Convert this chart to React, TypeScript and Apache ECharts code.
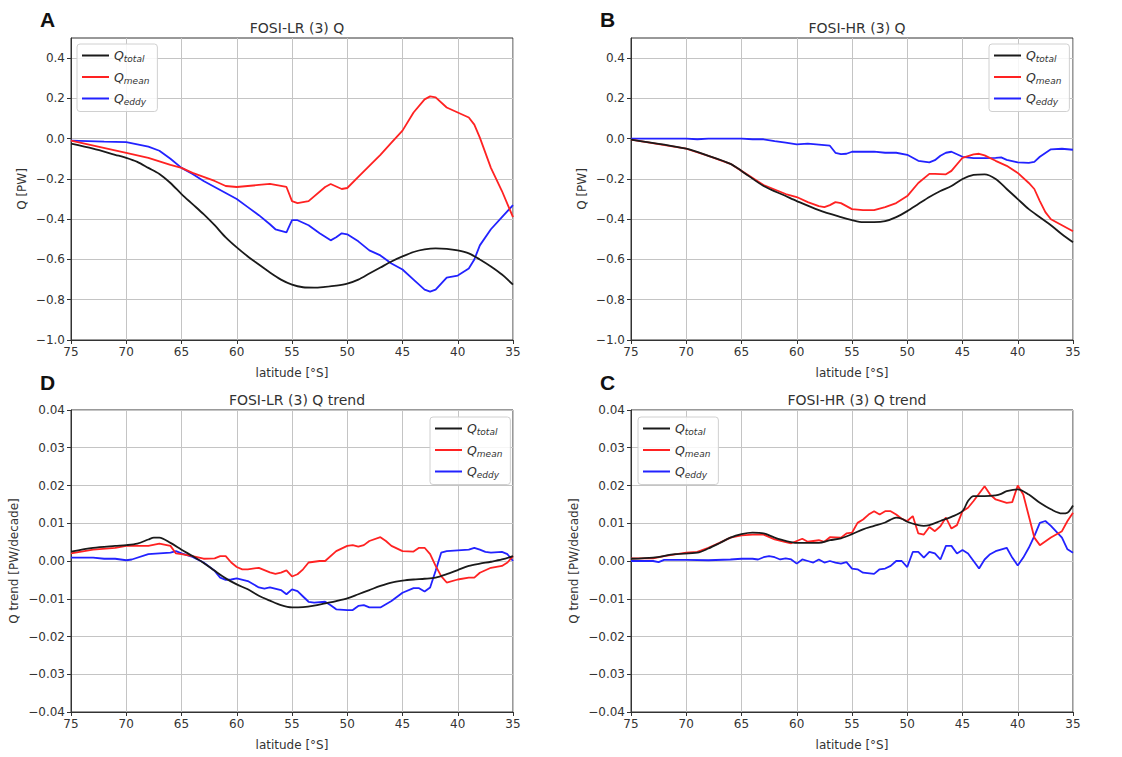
import React, { useEffect, useRef } from 'react';
import * as echarts from 'echarts';

// ---------- tick values ----------
const yTicksQ = [-1.0, -0.8, -0.6, -0.4, -0.2, 0.0, 0.2, 0.4];
const yTicksT = [-0.04, -0.03, -0.02, -0.01, 0.0, 0.01, 0.02, 0.03, 0.04];
const xTicks = [75, 70, 65, 60, 55, 50, 45, 40, 35];
const seriesNames = ['Qtotal', 'Qmean', 'Qeddy'];
const subscripts = ['total', 'mean', 'eddy'];

// ---------- Panel A: FOSI-LR (3) Q ----------
const A_total_lat = [75, 73, 71, 70, 69, 68, 67, 66, 65, 64, 63, 62, 61, 60, 59, 58, 57, 56, 55, 54, 53, 52, 51, 50, 49, 48, 47, 46, 45, 44, 43, 42, 41, 40, 39, 38, 37, 36, 35];
const A_total = [-0.025, -0.05, -0.08, -0.095, -0.115, -0.145, -0.175, -0.22, -0.275, -0.325, -0.375, -0.43, -0.49, -0.54, -0.585, -0.625, -0.665, -0.7, -0.725, -0.738, -0.74, -0.736, -0.73, -0.72, -0.7, -0.67, -0.64, -0.61, -0.585, -0.563, -0.55, -0.545, -0.547, -0.555, -0.57, -0.6, -0.635, -0.675, -0.725];
const A_mean_lat = [75, 70, 68, 66, 65, 64, 62, 61, 60, 58, 57, 56, 55.5, 55, 54.5, 53.5, 52, 51.5, 50.5, 50, 49, 48, 47, 46, 45, 44, 43, 42.5, 42, 41, 40, 39, 38.5, 38, 37, 36, 35];
const A_mean = [-0.01, -0.07, -0.095, -0.13, -0.145, -0.17, -0.21, -0.235, -0.24, -0.23, -0.225, -0.235, -0.24, -0.31, -0.32, -0.31, -0.24, -0.225, -0.25, -0.245, -0.19, -0.135, -0.08, -0.02, 0.04, 0.13, 0.195, 0.21, 0.205, 0.155, 0.13, 0.105, 0.07, 0.005, -0.145, -0.26, -0.39];
const A_eddy_lat = [75, 72, 70, 68, 67, 66, 65, 64, 63, 61, 60, 59, 58, 57, 56.5, 55.5, 55, 54.5, 53.5, 52.5, 51.5, 51, 50.5, 50, 49, 48, 47, 46, 45, 44, 43, 42.5, 42, 41, 40, 39, 38.5, 38, 37, 36, 35];
const A_eddy = [-0.01, -0.015, -0.017, -0.04, -0.06, -0.1, -0.145, -0.175, -0.21, -0.27, -0.3, -0.34, -0.38, -0.425, -0.45, -0.465, -0.405, -0.405, -0.43, -0.47, -0.505, -0.49, -0.47, -0.475, -0.51, -0.555, -0.58, -0.62, -0.65, -0.7, -0.75, -0.76, -0.75, -0.69, -0.68, -0.645, -0.6, -0.53, -0.45, -0.39, -0.33];

// ---------- Panel B: FOSI-HR (3) Q ----------
const B_total_lat = [75, 70, 68, 66, 65, 63, 61, 60, 58, 56, 55, 54, 53, 52, 51, 50, 49, 48, 47, 46, 45, 44, 43, 42, 41, 40, 39, 38, 37, 36, 35];
const B_total = [-0.005, -0.05, -0.085, -0.125, -0.16, -0.235, -0.285, -0.31, -0.355, -0.39, -0.405, -0.415, -0.415, -0.41, -0.39, -0.36, -0.325, -0.29, -0.26, -0.235, -0.2, -0.18, -0.177, -0.2, -0.25, -0.3, -0.35, -0.39, -0.43, -0.475, -0.515];
const B_mean_lat = [75, 70, 68, 66, 65, 63, 61, 60, 59, 58, 57.5, 57, 56.5, 56, 55, 54, 53, 52, 51, 50, 49, 48, 47.5, 46.5, 46, 45, 44, 43.5, 43, 42, 41, 40, 39, 38.5, 38, 37.5, 37, 36, 35];
const B_mean = [-0.005, -0.05, -0.085, -0.125, -0.16, -0.23, -0.275, -0.29, -0.315, -0.335, -0.34, -0.33, -0.315, -0.32, -0.35, -0.355, -0.355, -0.34, -0.32, -0.285, -0.22, -0.175, -0.175, -0.177, -0.16, -0.095, -0.078, -0.075, -0.083, -0.11, -0.135, -0.17, -0.22, -0.25, -0.31, -0.365, -0.4, -0.43, -0.46];
const B_eddy_lat = [75, 70, 69, 68, 65, 64, 63, 62, 61, 60, 59, 58, 57, 56.5, 56, 55.5, 55, 54, 53, 52, 51, 50, 49, 48, 47.5, 47, 46.5, 46, 45, 44, 43, 42, 41.5, 41, 40, 39, 38.5, 38, 37, 36, 35];
const B_eddy = [0.0, 0.0, -0.003, 0.0, 0.0, -0.003, -0.003, -0.012, -0.02, -0.028, -0.025, -0.03, -0.035, -0.07, -0.077, -0.075, -0.065, -0.065, -0.064, -0.07, -0.07, -0.08, -0.11, -0.118, -0.107, -0.085, -0.07, -0.065, -0.09, -0.097, -0.097, -0.095, -0.093, -0.105, -0.118, -0.12, -0.115, -0.09, -0.053, -0.05, -0.055];

// ---------- Panel D: FOSI-LR (3) Q trend ----------
const D_total_lat = [75, 73, 71, 70, 69, 68, 67.5, 67, 66, 65, 64, 63, 62, 61, 60, 59, 58, 57, 56, 55, 54, 53, 52, 51, 50, 49, 48, 47, 46, 45, 44, 43, 42, 41, 40, 39, 38, 37, 36, 35];
const D_total = [0.0025, 0.0035, 0.004, 0.0042, 0.0046, 0.0057, 0.0062, 0.0062, 0.0048, 0.003, 0.0013, -0.0005, -0.0026, -0.0046, -0.0062, -0.0075, -0.0092, -0.0105, -0.0117, -0.0123, -0.0122, -0.0118, -0.0112, -0.0106, -0.0099, -0.0088, -0.0077, -0.0066, -0.0057, -0.0052, -0.0049, -0.0047, -0.0044, -0.0035, -0.0024, -0.0013, -0.0007, -0.0002, 0.0004, 0.0013];
const D_mean_lat = [75, 73, 71, 70, 69, 68, 67, 66, 65.5, 65, 64, 63, 62, 61.5, 61, 60.5, 60, 59.5, 59, 58, 57, 56.5, 56, 55.5, 55, 54.5, 54, 53.5, 52.5, 52, 51, 50, 49.5, 49, 48.5, 48, 47, 46.5, 46, 45, 44, 43.5, 43, 42.5, 42, 41.5, 41, 40, 39, 38.5, 38, 37, 36, 35.5, 35];
const D_mean = [0.002, 0.003, 0.0035, 0.004, 0.004, 0.004, 0.0046, 0.004, 0.002, 0.0018, 0.0013, 0.0006, 0.0007, 0.0013, 0.0013, -0.0004, -0.0016, -0.0022, -0.0022, -0.0018, -0.003, -0.0034, -0.0031, -0.0025, -0.0041, -0.0035, -0.0022, -0.0004, 0.0, 0.0, 0.0026, 0.004, 0.0042, 0.0038, 0.0042, 0.0053, 0.0063, 0.0053, 0.004, 0.0026, 0.0025, 0.0035, 0.0035, 0.0018, -0.0013, -0.004, -0.0057, -0.0049, -0.0044, -0.0044, -0.0031, -0.0018, -0.0013, -0.0004, 0.0013];
const D_eddy_lat = [75, 73, 72, 71, 70, 69.5, 68, 67, 66, 65.5, 65, 64, 63, 62, 61.5, 61, 60.5, 60, 59, 58, 57.5, 57, 56, 55.5, 55, 54.5, 54, 53.5, 53, 52, 51.5, 51, 50, 49.5, 49, 48.5, 48, 47, 46, 45, 44, 43.5, 43, 42.5, 42, 41.5, 41, 40, 39, 38.5, 38, 37.5, 37, 36, 35.5, 35];
const D_eddy = [0.0009, 0.0009, 0.0006, 0.0006, 0.0002, 0.0004, 0.0018, 0.002, 0.0022, 0.0026, 0.002, 0.0011, -0.0004, -0.0026, -0.0044, -0.005, -0.0049, -0.0046, -0.0053, -0.007, -0.0073, -0.007, -0.0077, -0.0088, -0.0075, -0.008, -0.0094, -0.0108, -0.011, -0.0108, -0.0117, -0.0128, -0.013, -0.013, -0.0119, -0.0117, -0.0123, -0.0123, -0.0106, -0.0084, -0.0072, -0.0072, -0.0081, -0.007, -0.0026, 0.0022, 0.0026, 0.0028, 0.003, 0.0035, 0.003, 0.0024, 0.0022, 0.0024, 0.0018, 0.0];

// ---------- Panel C: FOSI-HR (3) Q trend ----------
const C_total_lat = [75, 73, 71, 69, 68, 67, 66, 65, 64, 63, 62, 61, 60, 58, 57, 56, 55, 54, 53, 52, 51, 50.5, 50, 49, 48.5, 48, 47, 46, 45, 44.5, 44, 43, 42, 41.5, 41, 40, 39, 38, 37, 36, 35.5, 35];
const C_total = [0.0006, 0.0009, 0.0018, 0.0022, 0.0033, 0.0047, 0.0062, 0.0071, 0.0075, 0.0073, 0.0062, 0.0053, 0.0048, 0.0048, 0.0055, 0.006, 0.0071, 0.0084, 0.0093, 0.0102, 0.0115, 0.0112, 0.0104, 0.0095, 0.0093, 0.0095, 0.0106, 0.0117, 0.0132, 0.0159, 0.0172, 0.0172, 0.0174, 0.0178, 0.0185, 0.019, 0.0176, 0.0154, 0.0137, 0.0126, 0.0128, 0.0147];
const C_mean_lat = [75, 73, 72, 70, 69, 68, 67, 66, 65, 64, 63, 62, 61, 60.5, 60, 59.5, 59, 58, 57.5, 57, 56, 55.5, 55, 54.5, 54, 53.5, 53, 52.5, 52, 51.5, 51, 50.5, 50, 49.5, 49, 48.5, 48, 47.5, 47, 46.5, 46, 45.5, 45, 44.5, 44, 43, 42.5, 42, 41, 40.5, 40, 39.5, 39, 38.5, 38, 37, 36, 35.5, 35];
const C_mean = [0.0007, 0.0007, 0.0013, 0.0022, 0.0024, 0.0035, 0.0048, 0.0062, 0.0068, 0.007, 0.007, 0.0057, 0.005, 0.0047, 0.0053, 0.0059, 0.0051, 0.0055, 0.0051, 0.0063, 0.0062, 0.0073, 0.0075, 0.0101, 0.011, 0.0123, 0.0132, 0.0123, 0.0132, 0.0132, 0.0123, 0.0112, 0.0106, 0.0119, 0.0073, 0.007, 0.009, 0.0079, 0.0092, 0.0115, 0.0086, 0.0095, 0.0132, 0.0141, 0.0159, 0.0198, 0.0176, 0.0163, 0.0154, 0.0156, 0.02, 0.0176, 0.0119, 0.0062, 0.0042, 0.0062, 0.0079, 0.0106, 0.0128];
const C_eddy_lat = [75, 73, 72.5, 72, 70, 68, 66, 65, 64, 63.5, 63, 62.5, 62, 61.5, 61, 60.5, 60, 59.5, 59, 58.5, 58, 57.5, 57, 56.5, 56, 55.5, 55, 54.5, 54, 53, 52.5, 52, 51.5, 51, 50.5, 50, 49.5, 49, 48.5, 48, 47.5, 47, 46.5, 46, 45.5, 45, 44.5, 44, 43.5, 43, 42.5, 42, 41, 40.5, 40, 39.5, 39, 38.5, 38, 37.5, 37, 36, 35.5, 35];
const C_eddy = [0.0, 0.0, -0.0003, 0.0003, 0.0003, 0.0002, 0.0004, 0.0006, 0.0006, 0.0004, 0.001, 0.0013, 0.001, 0.0004, 0.0007, 0.0004, -0.0007, 0.0004, 0.0, -0.0004, 0.0004, -0.0004, 0.0, -0.0004, -0.0007, -0.0003, -0.002, -0.0022, -0.0031, -0.0034, -0.0022, -0.002, -0.0013, 0.0, 0.0, -0.0016, 0.0024, 0.0024, 0.0009, 0.0024, 0.002, 0.0004, 0.004, 0.004, 0.002, 0.0029, 0.002, 0.0, -0.002, 0.0004, 0.0018, 0.0026, 0.0035, 0.0009, -0.0012, 0.0009, 0.0035, 0.0066, 0.0101, 0.0106, 0.0093, 0.0062, 0.0031, 0.0022];

const COLORS = ['#1a1a1a', '#ff2222', '#2222ff'];
const FONT = 'DejaVu Sans';

const zip = (xs: number[], ys: number[]) => xs.map((x, i) => [x, ys[i]]);
const fmt = (d: number) => (v: number) => (v < -1e-9 ? '\u2212' : '') + Math.abs(v).toFixed(d);

export default function App() {
  const ref = useRef<HTMLDivElement>(null);
  useEffect(() => {
    if (!ref.current) return;
    const chart = echarts.init(ref.current, null, { renderer: 'svg' });

    const panels = [
      { left: 71, top: 38, title: 'FOSI-LR (3) Q', letter: 'A', trend: false, legend: { left: 77, top: 44 },
        data: [zip(A_total_lat, A_total), zip(A_mean_lat, A_mean), zip(A_eddy_lat, A_eddy)] },
      { left: 631, top: 38, title: 'FOSI-HR (3) Q', letter: 'B', trend: false, legend: { left: 989, top: 44 },
        data: [zip(B_total_lat, B_total), zip(B_mean_lat, B_mean), zip(B_eddy_lat, B_eddy)] },
      { left: 71, top: 410, title: 'FOSI-LR (3) Q trend', letter: 'D', trend: true, legend: { left: 430, top: 417 },
        data: [zip(D_total_lat, D_total), zip(D_mean_lat, D_mean), zip(D_eddy_lat, D_eddy)] },
      { left: 631, top: 410, title: 'FOSI-HR (3) Q trend', letter: 'C', trend: true, legend: { left: 638, top: 417 },
        data: [zip(C_total_lat, C_total), zip(C_mean_lat, C_mean), zip(C_eddy_lat, C_eddy)] },
    ];
    const W = 442, H = 302;

    const grid = panels.map(p => ({
      left: p.left, top: p.top, width: W, height: H,
      show: true, borderColor: '#333', borderWidth: 1, backgroundColor: 'transparent',
    }));

    const xAxis = panels.map((p, i) => ({
      type: 'value', gridIndex: i, min: 35, max: 75, interval: 5, inverse: true,
      name: 'latitude [°S]', nameLocation: 'middle', nameGap: 27,
      nameTextStyle: { fontFamily: FONT, fontSize: 12, color: '#333' },
      axisLine: { show: true, onZero: false, lineStyle: { color: '#333', width: 1 } },
      axisTick: { show: true, length: 4, lineStyle: { color: '#333' }, customValues: xTicks },
      axisLabel: { fontFamily: FONT, fontSize: 12, color: '#333', margin: 6, customValues: xTicks },
      splitLine: { show: true, lineStyle: { color: '#c4c4c4', width: 1 } },
    }));

    const yAxis = panels.map((p, i) => {
      const ticks = p.trend ? yTicksT : yTicksQ;
      return {
        type: 'value', gridIndex: i,
        min: p.trend ? -0.04 : -1.0, max: p.trend ? 0.04 : 0.5,
        interval: p.trend ? 0.01 : 0.2,
        name: p.trend ? 'Q trend [PW/decade]' : 'Q [PW]', nameLocation: 'middle',
        nameGap: p.trend ? 51 : 43,
        nameTextStyle: { fontFamily: FONT, fontSize: 12, color: '#333' },
        axisLine: { show: true, onZero: false, lineStyle: { color: '#333', width: 1 } },
        axisTick: { show: true, length: 4, lineStyle: { color: '#333' }, customValues: ticks },
        axisLabel: { fontFamily: FONT, fontSize: 12, color: '#333', margin: 6, customValues: ticks,
          formatter: fmt(p.trend ? 2 : 1) },
        splitLine: { show: true, lineStyle: { color: '#c4c4c4', width: 1 } },
      };
    });

    const series: any[] = [];
    panels.forEach((p, i) => {
      p.data.forEach((d, k) => {
        series.push({
          type: 'line', name: seriesNames[k], xAxisIndex: i, yAxisIndex: i,
          data: d, showSymbol: false, symbol: 'none', smooth: k === 0 ? 0.3 : false,
          lineStyle: { color: COLORS[k], width: 1.8 }, itemStyle: { color: COLORS[k] },
          z: 3 - k,
        });
      });
    });

    const legend = panels.map(p => ({
      left: p.legend.left, top: p.legend.top, orient: 'vertical',
      data: seriesNames, icon: 'rect', itemWidth: 27, itemHeight: 2, itemGap: 7,
      backgroundColor: 'rgba(255,255,255,0.85)', borderColor: '#d0d0d0', borderWidth: 1, borderRadius: 3,
      padding: [5, 8, 5, 5],
      selectedMode: false,
      formatter: (name: string) => `{q|Q}{s|${subscripts[seriesNames.indexOf(name)]}}`,
      textStyle: {
        fontFamily: FONT, color: '#333',
        rich: {
          q: { fontFamily: FONT, fontStyle: 'italic', fontSize: 12.5, color: '#333', lineHeight: 16 },
          s: { fontFamily: FONT, fontStyle: 'italic', fontSize: 9, color: '#333', lineHeight: 16, verticalAlign: 'bottom' },
        },
      },
    }));

    const title = panels.map(p => ({
      text: p.title, left: p.left + W / 2, top: p.top - 22, textAlign: 'center',
      textStyle: { fontFamily: FONT, fontSize: 14, fontWeight: 'normal', color: '#333' },
    }));

    const graphic = panels.map(p => ({
      type: 'text', left: p.left - 31, top: p.top - (p.trend ? 38 : 29),
      style: { text: p.letter, font: 'bold 21px "Liberation Sans", Arial, sans-serif', fill: '#111' },
    }));

    chart.setOption({
      animation: false,
      backgroundColor: '#fff',
      grid, xAxis, yAxis, series, legend, title, graphic,
    });
    return () => chart.dispose();
  }, []);
  return <div ref={ref} style={{ position: 'fixed', left: 0, top: 0, width: 1122, height: 757 }} />;
}
